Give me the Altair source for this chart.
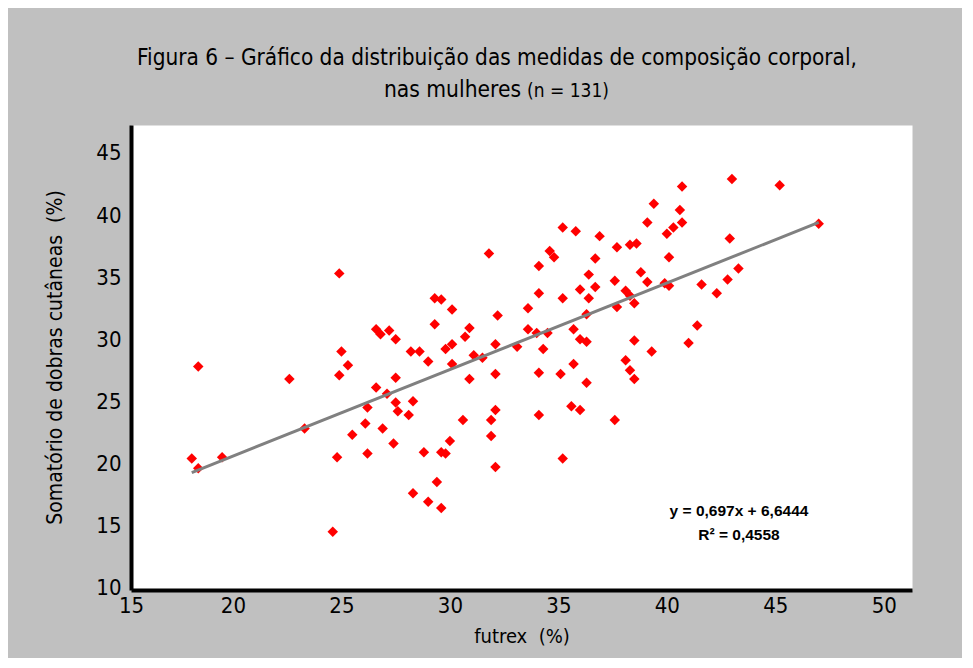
import altair as alt
import pandas as pd

# futrex (%) vs somatório de dobras cutâneas (%) — women
futrex = [18.1, 18.4, 18.4, 19.5, 22.6, 23.3, 24.8, 24.6, 24.9, 25.3, 25.0, 25.5, 24.9,
          31.8, 29.3, 29.6, 30.1, 32.2, 29.3, 26.6, 26.8, 27.2, 27.5, 30.9, 30.7, 29.8, 30.1,
          32.1, 33.1, 28.2, 28.6, 29.0, 30.1, 31.1, 31.5, 27.5, 32.1, 30.9, 26.6, 27.1, 27.5,
          28.3, 26.2, 27.6, 28.1, 32.1, 30.6, 31.9, 26.1, 26.9,
          27.4, 26.2, 28.8, 29.6, 29.8, 30.0, 31.9, 32.1, 29.4, 28.3, 29.0, 29.6,
          35.2, 35.8, 36.9, 37.7, 38.3, 38.6, 40.0, 40.3, 34.6, 34.8, 36.7, 40.1, 34.1, 36.4,
          38.8, 37.6, 39.1, 39.9, 40.1, 34.1, 35.2, 36.0, 36.7, 36.4, 38.1, 38.3, 38.5, 37.7,
          33.6, 36.3, 33.6, 34.0, 34.5, 35.7, 36.0, 36.3, 34.3, 38.5, 41.0, 39.3, 38.1, 38.3,
          38.5, 35.7, 34.1, 35.1, 36.3, 35.6, 36.0, 34.1, 37.6, 35.2,
          40.7, 39.4, 40.6, 40.7, 39.1,
          43.0, 45.2, 47.0, 42.9, 43.3, 42.8, 41.6, 42.3, 41.4]

dobras = [20.4, 19.6, 27.8, 20.5, 26.8, 22.8, 20.5, 14.5, 27.1, 27.9, 29.0, 22.3, 35.3,
          36.9, 33.3, 33.2, 32.4, 31.9, 31.2, 30.8, 30.4, 30.7, 30.0, 30.9, 30.2, 29.2, 29.6,
          29.6, 29.4, 29.0, 29.0, 28.2, 28.0, 28.7, 28.5, 26.9, 27.2, 26.8, 26.1, 25.6, 24.9,
          25.0, 24.5, 24.2, 23.9, 24.3, 23.5, 23.5, 23.2, 22.8,
          21.6, 20.8, 20.9, 20.9, 20.8, 21.8, 22.2, 19.7, 18.5, 17.6, 16.9, 16.4,
          39.0, 38.7, 38.3, 37.4, 37.6, 37.7, 38.5, 39.0, 37.1, 36.6, 36.5, 36.6, 35.9, 35.2,
          35.4, 34.7, 34.6, 34.5, 34.3, 33.7, 33.3, 34.0, 34.2, 33.3, 33.9, 33.5, 32.9, 32.6,
          32.5, 32.0, 30.8, 30.5, 30.5, 30.8, 30.0, 29.8, 29.2, 29.9, 29.7, 29.0, 28.3, 27.5,
          26.8, 28.0, 27.3, 27.2, 26.5, 24.6, 24.3, 23.9, 23.5, 20.4,
          42.3, 40.9, 40.4, 39.4, 39.4,
          42.9, 42.4, 39.3, 38.1, 35.7, 34.8, 34.4, 33.7, 31.1]

# linear trend line reported in the figure
trend_slope = 0.697
trend_intercept = 6.6444
trend_x = [min(futrex), max(futrex)]

# axis: the first label ("15") sits at the very start of the axis, as in the original
x_ticks = [15.3, 20, 25, 30, 35, 40, 45, 50]
y_ticks = [10, 15, 20, 25, 30, 35, 40, 45]

title_line1 = "Figura 6 – Gráfico da distribuição das medidas de composição corporal,"
title_line2a = "nas mulheres"
title_line2b = "(n = 131)"
eq_text = "y = 0,697x + 6,6444"
r2_text = "R² = 0,4558"

FONT = "Liberation Sans Narrow, Arial Narrow, DejaVu Sans Condensed, sans-serif"
BOLD = "Liberation Sans, Arial, sans-serif"

pts = pd.DataFrame({"futrex": futrex, "dobras": dobras})
trend = pd.DataFrame({"futrex": trend_x})
one = pd.DataFrame({"k": [0]})

x_scale = alt.Scale(domain=[15.3, 51.3], nice=False, zero=False)
y_scale = alt.Scale(domain=[9.8, 47.25], nice=False, zero=False)

x_axis = alt.Axis(
    title="futrex\u00a0 (%)", values=x_ticks, ticks=False, grid=False,
    labelExpr="datum.value < 16 ? '15' : datum.label",
    domainColor="black", domainWidth=4, labelFlush=False, labelOverlap=False,
    labelFont=FONT, labelFontSize=22, labelColor="black", labelPadding=5,
    titleFont=FONT, titleFontSize=20, titleFontWeight="normal", titleColor="black",
    titleY=46, titleBaseline="middle",
)
y_axis = alt.Axis(
    title="Somatório de dobras cutâneas\u00a0 (%)", values=y_ticks, ticks=False, grid=False,
    domainColor="black", domainWidth=4, labelFlush=False, labelOverlap=False,
    labelFont=FONT, labelFontSize=22, labelColor="black", labelPadding=10,
    titleFont=FONT, titleFontSize=21, titleFontWeight="normal", titleColor="black",
    titleX=-76, titleY=232, titleBaseline="middle", titleAngle=-90,
)

points = alt.Chart(pts).mark_point(
    shape="diamond", filled=True, color="#ff0000", size=110, opacity=1
).encode(
    x=alt.X("futrex:Q", scale=x_scale, axis=x_axis),
    y=alt.Y("dobras:Q", scale=y_scale, axis=y_axis),
)

line = alt.Chart(trend).transform_calculate(
    trend=f"{trend_slope} * datum.futrex + {trend_intercept}"
).mark_line(color="#808080", strokeWidth=3).encode(
    x=alt.X("futrex:Q", scale=x_scale),
    y=alt.Y("trend:Q", scale=y_scale),
)

def label(txt, x, y, size, font=FONT, weight="normal", align="center"):
    return alt.Chart(one).mark_text(
        font=font, fontSize=size, fontWeight=weight, color="black",
        align=align, baseline="middle"
    ).encode(x=alt.value(x), y=alt.value(y), text=alt.value(txt))

t1 = label(title_line1, 366, -67, 22.4)
t2a = label(title_line2a, 390, -35, 22.6, align="right")
t2b = label(title_line2b, 396, -34, 19, align="left")
eq = label(eq_text, 608, 386, 15.5, font=BOLD, weight="bold")
r2 = label(r2_text, 608, 410, 15.5, font=BOLD, weight="bold")

chart = alt.layer(points, line, t1, t2a, t2b, eq, r2).properties(
    width=781, height=465,
    autosize=alt.AutoSizeParams(type="none"),
    padding={"left": 123, "top": 117, "right": 50, "bottom": 68},
    background="#c0c0c0",
).configure_view(fill="white", strokeOpacity=0)

chart.save("out.html", embed_options={"renderer": "svg", "actions": False})
